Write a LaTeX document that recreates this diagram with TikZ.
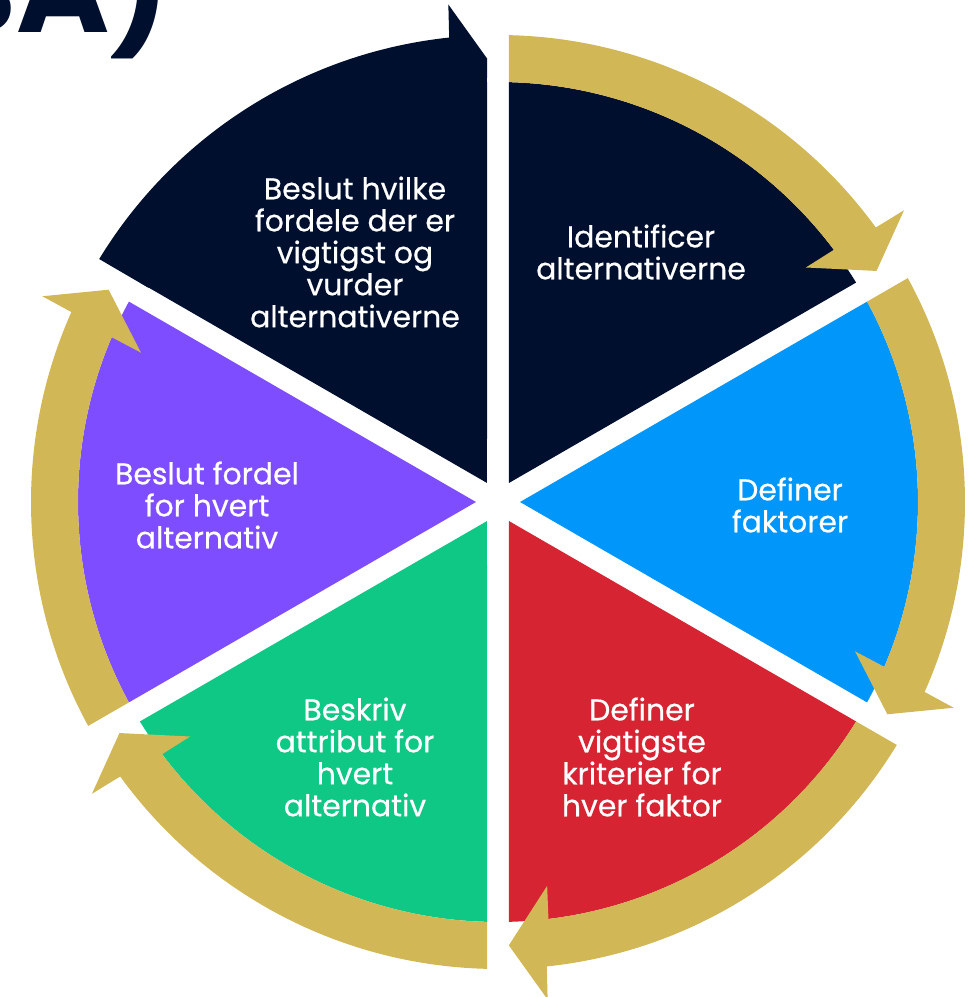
\documentclass[tikz,border=0pt]{standalone}
\usepackage{fontspec}
\setmainfont{Poppins}
\newfontfamily\titlefont{Poppins}
\newfontfamily\labelfont{Poppins}[FakeBold=0.5]

\definecolor{navy}{HTML}{000F2D}
\definecolor{gold}{HTML}{D1B755}
\definecolor{skyblue}{HTML}{0096FA}
\definecolor{crimson}{HTML}{D62433}
\definecolor{mint}{HTML}{10C885}
\definecolor{violet}{HTML}{7E4DFF}

% pie slice between two angles, with a white gap on both sides
\newcommand{\pieslice}[3]{%
  \fill[#3] ({(#1+#2)/2}:4.4mm) -- ({#1+1.5}:84mm)
    arc[start angle={#1+1.5}, end angle={#2-1.5}, radius=84mm] -- cycle;}

% curved arrow running clockwise from angle #1 over one slice
\newcommand{\cyclearrow}[3]{%
  \fill[#2] ({#1-1.35}:93.4mm)
    arc[start angle={#1-1.35}, end angle={#1-54}, radius=93.4mm]
    -- ({#1-54.3}:100mm) -- ({#1-58.6}:88.7mm) -- ({#1-52.7}:77.4mm)
    -- ({#1-53.1}:#3)
    arc[start angle={#1-53.1}, end angle={#1-1.5}, radius=#3] -- cycle;}

\tikzset{
  steplabel/.style={text=white, align=center, inner sep=0pt,
    font=\labelfont\fontsize{17}{18.2}\selectfont},
}

\begin{document}
\begin{tikzpicture}
  \useasboundingbox (-99.6mm,-99mm) rectangle (95.8mm,100.4mm);

  % title, cut off by the page
  \node[font=\titlefont\bfseries\fontsize{72}{72}\selectfont, text=navy,
        anchor=base east, inner sep=0pt] (title) at (-65.6mm,93.8mm) {BA)};

  % dark arrow merged into the first slice
  \cyclearrow{150}{navy}{82mm}
  \fill[navy] (91.42:88.7mm) -- (91.54:82mm) -- (97:82mm) -- cycle;

  % slices
  \pieslice{90}{150}{navy}
  \pieslice{30}{90}{navy}
  \pieslice{-30}{30}{skyblue}
  \pieslice{-90}{-30}{crimson}
  \pieslice{-150}{-90}{mint}
  \pieslice{150}{210}{violet}

  % gold arrows round the circle
  \cyclearrow{90}{gold}{84mm}
  \cyclearrow{30}{gold}{84mm}
  \cyclearrow{-30}{gold}{84mm}
  \cyclearrow{-90}{gold}{84mm}
  \cyclearrow{210}{gold}{84mm}

  % step texts
  \node[steplabel] (decide) at (-28.6mm,50mm)
    {Beslut hvilke\\fordele der er\\vigtigst og\\vurder\\alternativerne};
  \node[steplabel] (identify) at (28.6mm,50mm)
    {Identificer\\alternativerne};
  \node[steplabel] (factors) at (58.4mm,-0.6mm)
    {Definer\\faktorer};
  \node[steplabel] (criteria) at (28.8mm,-51mm)
    {Definer\\vigtigste\\kriterier for\\hver faktor};
  \node[steplabel] (attributes) at (-28.6mm,-51mm)
    {Beskriv\\attribut for\\hvert\\alternativ};
  \node[steplabel] (advantage) at (-58.2mm,-0.6mm)
    {Beslut fordel\\for hvert\\alternativ};
\end{tikzpicture}
\end{document}
